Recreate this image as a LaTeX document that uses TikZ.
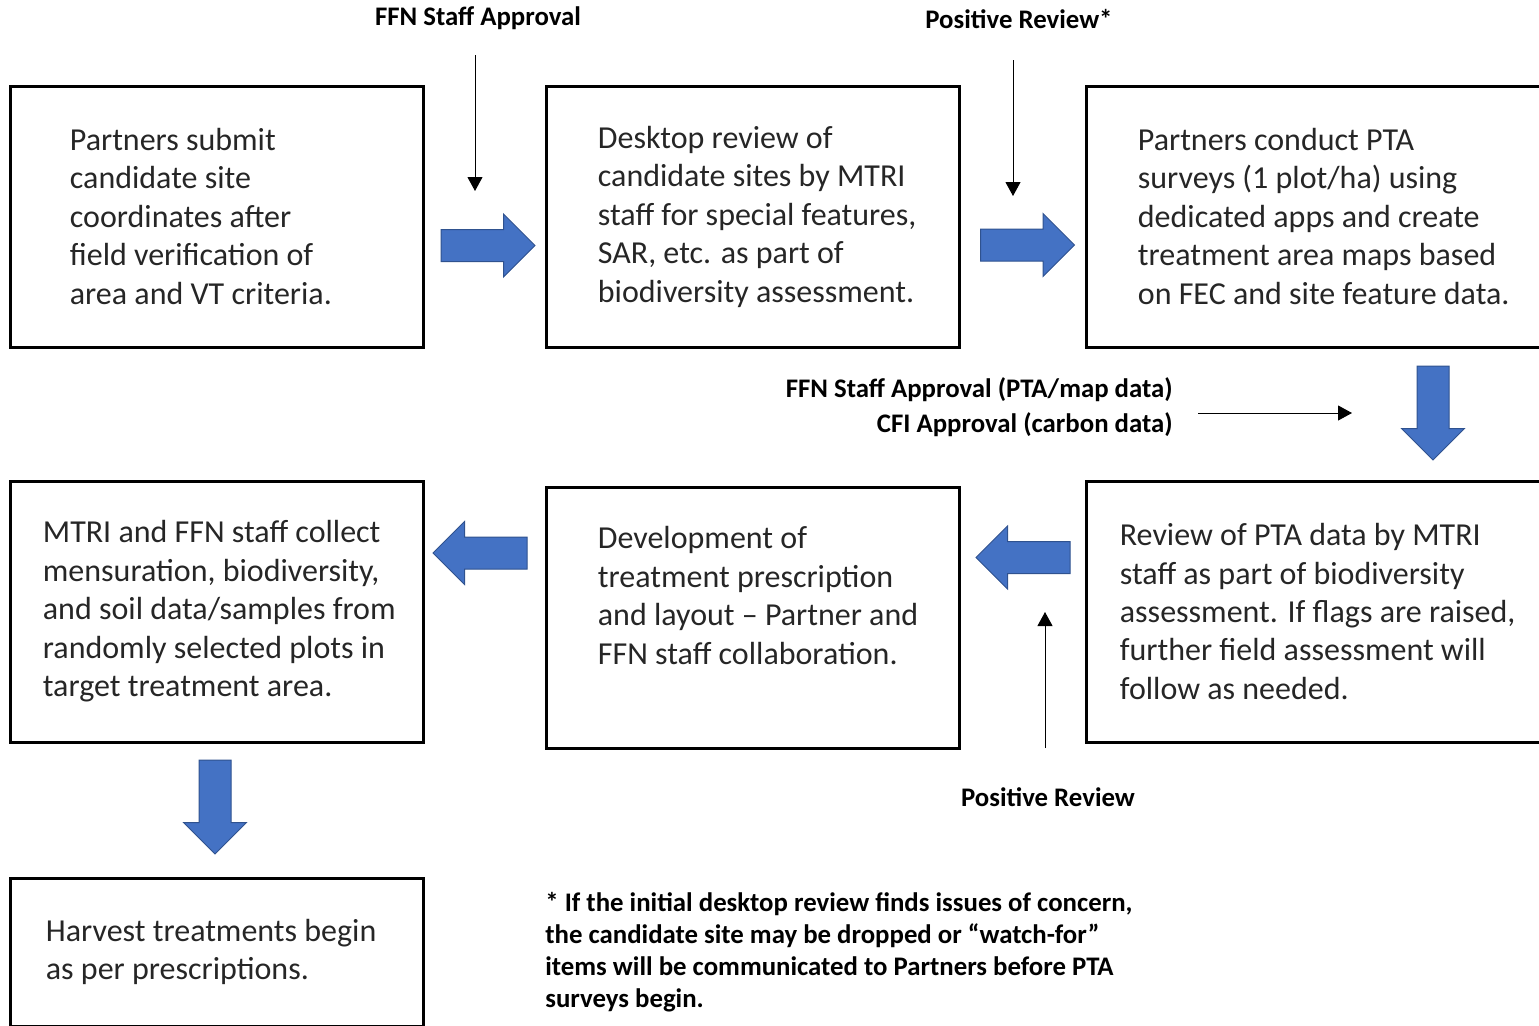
\documentclass[tikz,border=0pt]{standalone}
\usepackage{fontspec}
\setmainfont{Carlito}
\usetikzlibrary{arrows.meta, positioning, shapes.arrows}
\definecolor{FlecheBleue}{RGB}{68,114,196}
\definecolor{BordBleu}{RGB}{47,82,143}
\definecolor{Encre}{RGB}{38,38,38}
\tikzset{cadre/.style={rectangle, draw=black, line width=1.5pt,
  minimum width=206.5pt, minimum height=130.5pt, inner sep=0pt}}
\tikzset{texte/.style={align=left, inner sep=0pt, text=Encre,
  font=\fontsize{16}{19.25}\selectfont}}
\tikzset{etiq/.style={inner sep=0pt, font=\fontsize{13.4}{17.5}\selectfont\bfseries}}
\tikzset{bloc/.style={single arrow, fill=FlecheBleue, draw=BordBleu, line width=0.5pt,
  minimum height=47pt, inner xsep=0pt, inner ysep=7.75pt,
  single arrow head extend=7.75pt, single arrow tip angle=90}}
\tikzset{fin/.style={-{Triangle[length=7pt, width=7.5pt]}, line width=0.5pt}}

\begin{document}
\begin{tikzpicture}[x=0.5pt, y=-0.5pt]
\useasboundingbox (0,0) rectangle (1539,1025);
% top row
\node[cadre] (b1) at (216.5,216.5) {};
\node[cadre] (b2) at (752.5,216.5) {};
\node[cadre, minimum width=235pt] (b3) at (1321,216.5) {};
\node[texte, right=30.5pt of b1.west] (t1) {Partners submit\\candidate site\\coordinates after\\field verification of\\area and VT criteria.};
\node[texte, right=26.5pt of b2.west] (t2) {Desktop review of\\candidate sites by MTRI\\staff for special features,\\SAR, etc. as part of\\biodiversity assessment.};
\node[texte, right=26.5pt of b3.west] (t3) {Partners conduct PTA\\surveys (1 plot/ha) using\\dedicated apps and create\\treatment area maps based\\on FEC and site feature data.};
% middle row
\node[cadre] (b4) at (216.5,611.5) {};
\node[cadre] (b5) at (752.5,617.5) {};
\node[cadre, minimum width=235pt] (b6) at (1321,611.5) {};
\node[texte, right=17pt of b4.west] (t4) {MTRI and FFN staff collect\\mensuration, biodiversity,\\and soil data/samples from\\randomly selected plots in\\target treatment area.};
\node[texte, right=26.5pt of b5.west, yshift=11pt] (t5) {Development of\\treatment prescription\\and layout -- Partner and\\FFN staff collaboration.};
\node[texte, right=17.5pt of b6.west] (t6) {Review of PTA data by MTRI\\staff as part of biodiversity\\assessment. If flags are raised,\\further field assessment will\\follow as needed.};
% bottom
\node[cadre, minimum height=74pt] (b7) at (216.5,952) {};
\node[texte, right=18.5pt of b7.west] (t7) {Harvest treatments begin\\as per prescriptions.};
% block arrows
\node[bloc] (f1) at (480,245.5) {};
\node[bloc] (f2) at (1019.5,245) {};
\node[bloc, rotate=-90] (f3) at (1433,405) {};
\node[bloc, rotate=180] (f4) at (1031,557.5) {};
\node[bloc, rotate=180] (f5) at (488,553) {};
\node[bloc, rotate=-90] (f6) at (215,799) {};
% labels and thin arrows
\node[etiq] (l1) at (478,18) {FFN Staff Approval};
\node[etiq] (l2) at (1019,19) {Positive Review*};
\node[etiq, align=right, anchor=east] (l3) at (1173,407) {FFN Staff Approval (PTA/map data)\\CFI Approval (carbon data)};
\node[etiq] (l4) at (1048,797) {Positive Review};
\coordinate (h1) at (475,55);   \coordinate (h1e) at (475,191);
\coordinate (h2) at (1013,60);  \coordinate (h2e) at (1013,196);
\coordinate (h3) at (1198,413); \coordinate (h3e) at (1352,413);
\coordinate (h4) at (1045,748); \coordinate (h4e) at (1045,612);
\draw[fin] (h1) -- (h1e);
\draw[fin] (h2) -- (h2e);
\draw[fin] (h3) -- (h3e);
\draw[fin] (h4) -- (h4e);
% note
\node[etiq, align=left, anchor=north west, font=\fontsize{13.4}{16}\selectfont\bfseries] (note) at (545,892) {* If the initial desktop review finds issues of concern,\\the candidate site may be dropped or “watch-for”\\items will be communicated to Partners before PTA\\surveys begin.};
\end{tikzpicture}
\end{document}
